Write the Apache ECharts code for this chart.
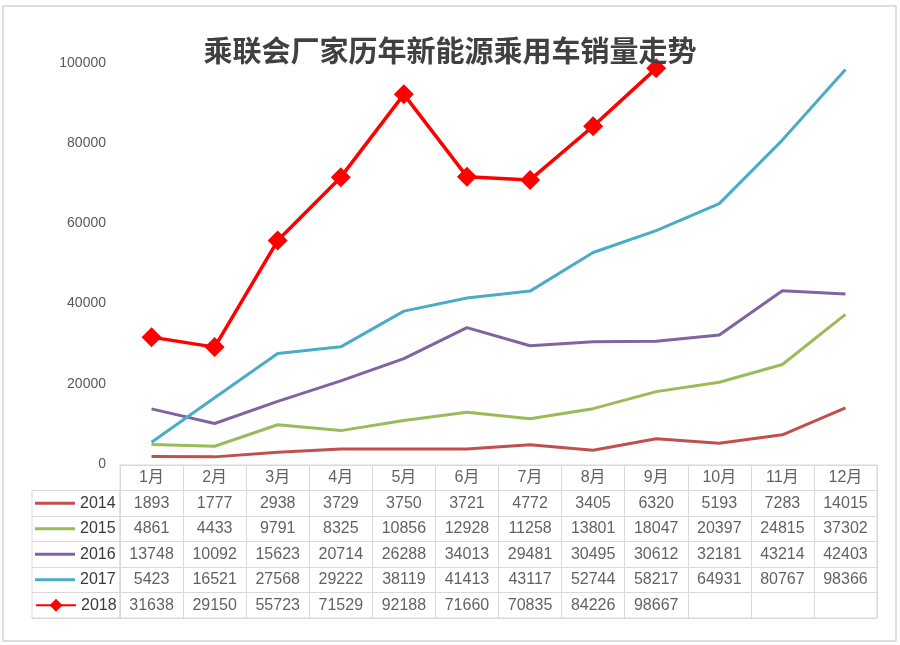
<!DOCTYPE html>
<html><head><meta charset="utf-8">
<script src="https://cdn.jsdelivr.net/npm/echarts@6/dist/echarts.min.js"></script>
<style>html,body{margin:0;padding:0;background:#fff}#c{width:900px;height:645px}</style>
</head><body><div id="c"></div>
<script>
const titleText = '乘联会厂家历年新能源乘用车销量走势';
const months = ['1月','2月','3月','4月','5月','6月','7月','8月','9月','10月','11月','12月'];
const years = ['2014','2015','2016','2017','2018'];
const s2014 = [1893,1777,2938,3729,3750,3721,4772,3405,6320,5193,7283,14015];
const s2015 = [4861,4433,9791,8325,10856,12928,11258,13801,18047,20397,24815,37302];
const s2016 = [13748,10092,15623,20714,26288,34013,29481,30495,30612,32181,43214,42403];
const s2017 = [5423,16521,27568,29222,38119,41413,43117,52744,58217,64931,80767,98366];
const s2018 = [31638,29150,55723,71529,92188,71660,70835,84226,98667,null,null,null];
const yTicks = [0,20000,40000,60000,80000,100000];
const colors = ['#C0504D','#9BBB59','#8064A2','#4BACC6','#FF0000'];
const allSeries = [s2014,s2015,s2016,s2017,s2018];

const TXT = '#3a3a3a';
const LINE = '#d9d9d9';
const FONT = '"Liberation Sans", Arial, "Noto Sans CJK SC", sans-serif';

// table cells
const tableData = [];
months.forEach((m,c)=>tableData.push({name:m, value:[c,0]}));
allSeries.forEach((arr,r)=>arr.forEach((v,c)=>{ if(v!=null) tableData.push({name:String(v), value:[c,r+1]}); }));

const tableTop = 465, tableBottom = 618;
const rowH = (tableBottom - tableTop)/6;

const lineSeries = allSeries.map((arr,i)=>({
  name: years[i], type:'line', xAxisIndex:0, yAxisIndex:0, data: arr,
  symbol: i===4 ? 'diamond' : 'none', symbolSize: 20, showSymbol: i===4,
  lineStyle:{color:colors[i], width: i===4?3.5:3},
  itemStyle:{color:colors[i]},
  z: i===4?5:3, silent:true
}));

const legends = years.map((y,i)=>({
  data:[ i===4 ? {name:y} : {name:y, icon:'rect'} ],
  orient:'vertical', left:35,
  top: tableTop + rowH*(i+1.5) - 8,
  padding:0, itemWidth:40, itemHeight: i===4 ? 16 : 3, itemGap:4, selectedMode:false,
  textStyle:{color:TXT, fontSize:16, lineHeight:16, fontFamily:FONT}
}));

const option = {
  backgroundColor:'#fff',
  animation:false,
  title:{text:titleText, left:'center', top:31,
    textStyle:{fontSize:29, fontWeight:'bold', color:'#404040', fontFamily:'"Noto Sans CJK SC", sans-serif'}},
  legend: legends,
  graphic:[{type:'rect', shape:{x:3,y:6,width:893,height:635}, style:{fill:'none', stroke:'#d4d4d4', lineWidth:1.5}, silent:true}],
  grid:[
    {left:120, right:23, top:63, bottom:645-464},
    {left:120, right:23, top:tableTop, bottom:645-tableBottom, show:true, borderColor:LINE, borderWidth:1},
    {left:32, width:88, top:tableTop+rowH, bottom:645-tableBottom, show:true, borderColor:LINE, borderWidth:1}
  ],
  xAxis:[
    {gridIndex:0, type:'category', data:months, boundaryGap:true, axisLine:{show:false}, axisTick:{show:false}, axisLabel:{show:false}},
    {gridIndex:1, type:'category', data:months, boundaryGap:true, axisLine:{show:false}, axisTick:{show:false}, axisLabel:{show:false},
      splitLine:{show:true, lineStyle:{color:LINE, width:1}}},
    {gridIndex:2, type:'category', data:[''], boundaryGap:true, axisLine:{show:false}, axisTick:{show:false}, axisLabel:{show:false}}
  ],
  yAxis:[
    {gridIndex:0, type:'value', min:yTicks[0], max:yTicks[yTicks.length-1], interval:20000,
      axisLine:{show:false}, axisTick:{show:false}, splitLine:{show:false},
      axisLabel:{color:'#595959', fontSize:14, margin:14, fontFamily:FONT, formatter:(v)=>String(v)}},
    {gridIndex:1, type:'category', data:[''].concat(years), inverse:true, boundaryGap:true,
      axisLine:{show:false}, axisTick:{show:false}, axisLabel:{show:false},
      splitLine:{show:true, lineStyle:{color:LINE, width:1}}},
    {gridIndex:2, type:'category', data:years, inverse:true, boundaryGap:true,
      axisLine:{show:false}, axisTick:{show:false}, axisLabel:{show:false},
      splitLine:{show:true, lineStyle:{color:LINE, width:1}}}
  ],
  series: lineSeries.concat([{
    type:'scatter', xAxisIndex:1, yAxisIndex:1, data:tableData,
    symbol:'rect', symbolSize:1, itemStyle:{color:'rgba(0,0,0,0)'}, silent:true,
    label:{show:true, position:'inside', formatter:'{b}', color:TXT, fontSize:16, fontFamily:FONT}
  }])
};
const chart = echarts.init(document.getElementById('c'));
chart.setOption(option);
</script></body></html>
